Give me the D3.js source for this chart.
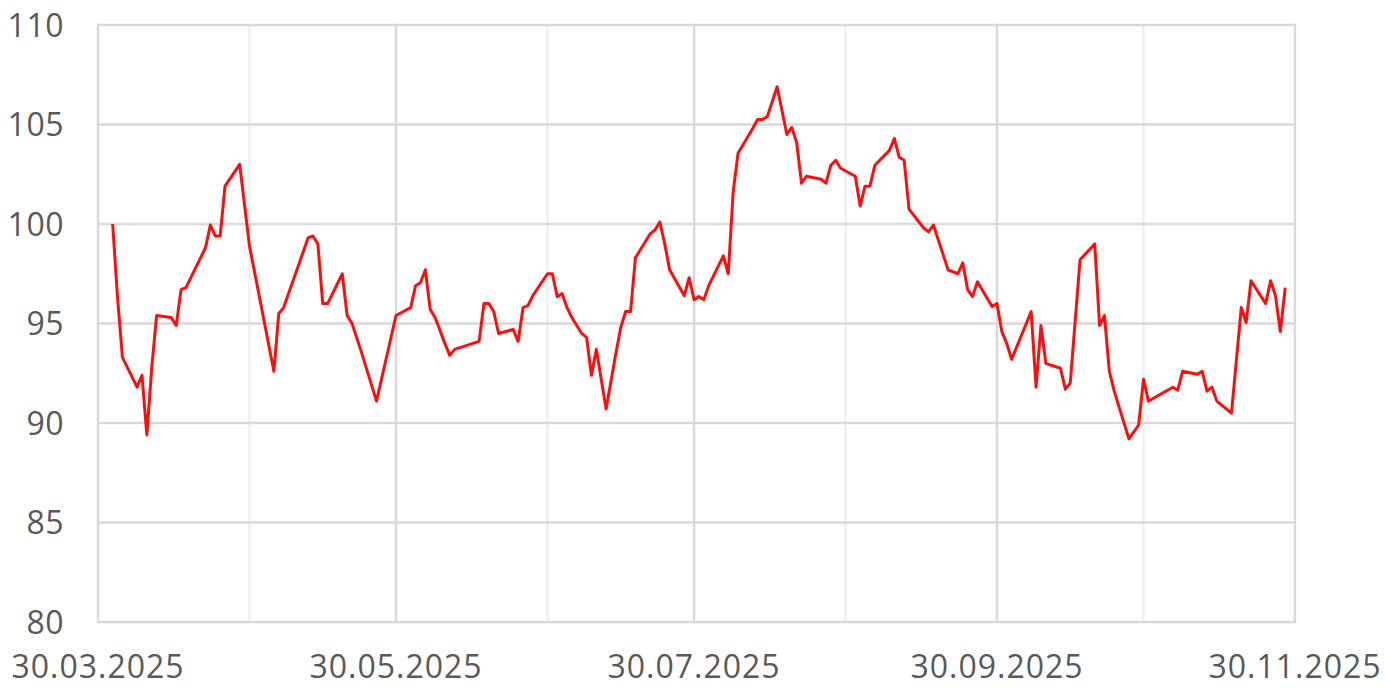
<!DOCTYPE html>
<html>
<head>
<meta charset="utf-8">
<script src="https://cdn.jsdelivr.net/npm/d3@7"></script>
<style>
  html, body { margin: 0; padding: 0; background: #fff; }
  svg text { font-family: "Open Sans", sans-serif; font-weight: 400; fill: #595959; }
</style>
</head>
<body>
<svg id="chart"></svg>
<script>
// dates of the series
var dates = [
  "2025-04-02","2025-04-03","2025-04-04","2025-04-07","2025-04-08","2025-04-09","2025-04-10","2025-04-11",
  "2025-04-14","2025-04-15","2025-04-16","2025-04-17","2025-04-21","2025-04-22","2025-04-23","2025-04-24",
  "2025-04-25","2025-04-28","2025-04-30","2025-05-05","2025-05-06","2025-05-07","2025-05-12","2025-05-13",
  "2025-05-14","2025-05-15","2025-05-16","2025-05-19","2025-05-20","2025-05-21","2025-05-23","2025-05-26",
  "2025-05-30","2025-06-02","2025-06-03","2025-06-04","2025-06-05","2025-06-06","2025-06-07","2025-06-09",
  "2025-06-10","2025-06-11","2025-06-16","2025-06-17","2025-06-18","2025-06-19","2025-06-20","2025-06-23",
  "2025-06-24","2025-06-25","2025-06-26","2025-06-27","2025-06-30","2025-07-01","2025-07-02","2025-07-03",
  "2025-07-04","2025-07-05","2025-07-07","2025-07-08","2025-07-09","2025-07-10","2025-07-12","2025-07-14",
  "2025-07-15","2025-07-16","2025-07-17","2025-07-18","2025-07-21","2025-07-22","2025-07-23","2025-07-24",
  "2025-07-25","2025-07-28","2025-07-29","2025-07-30","2025-07-31","2025-08-01","2025-08-02","2025-08-05",
  "2025-08-06","2025-08-07","2025-08-08","2025-08-11","2025-08-12","2025-08-13","2025-08-14","2025-08-16",
  "2025-08-18","2025-08-19","2025-08-20","2025-08-21","2025-08-22","2025-08-25","2025-08-26","2025-08-27",
  "2025-08-28","2025-08-29","2025-09-01","2025-09-02","2025-09-03","2025-09-04","2025-09-05","2025-09-08",
  "2025-09-09","2025-09-10","2025-09-11","2025-09-12","2025-09-15","2025-09-16","2025-09-17","2025-09-20",
  "2025-09-22","2025-09-23","2025-09-24","2025-09-25","2025-09-26","2025-09-29","2025-09-30","2025-10-01",
  "2025-10-02","2025-10-03","2025-10-07","2025-10-08","2025-10-09","2025-10-10","2025-10-13","2025-10-14",
  "2025-10-15","2025-10-17","2025-10-20","2025-10-21","2025-10-22","2025-10-23","2025-10-24","2025-10-27",
  "2025-10-29","2025-10-30","2025-10-31","2025-11-05","2025-11-06","2025-11-07","2025-11-10","2025-11-11",
  "2025-11-12","2025-11-13","2025-11-14","2025-11-17","2025-11-19","2025-11-20","2025-11-21","2025-11-24",
  "2025-11-25","2025-11-26","2025-11-27","2025-11-28"
];

var values = [
  100.0, 96.3, 93.3, 91.8, 92.4, 89.4, 92.8, 95.4,
  95.3, 94.9, 96.7, 96.8, 98.8, 99.95, 99.4, 99.4,
  101.9, 103.0, 98.9, 92.6, 95.5, 95.8, 99.3, 99.4,
  99.0, 96.0, 96.0, 97.5, 95.4, 95.0, 93.5, 91.1,
  95.4, 95.8, 96.9, 97.05, 97.7, 95.7, 95.3, 94.0,
  93.4, 93.7, 94.1, 96.0, 96.0, 95.6, 94.5, 94.7,
  94.1, 95.8, 95.9, 96.4, 97.5, 97.5, 96.35, 96.5,
  95.8, 95.3, 94.5, 94.3, 92.4, 93.7, 90.7, 93.5,
  94.8, 95.6, 95.6, 98.3, 99.5, 99.7, 100.1, 99.0,
  97.7, 96.4, 97.3, 96.2, 96.35, 96.2, 96.9, 98.4,
  97.5, 101.6, 103.55, 104.8, 105.25, 105.25, 105.4, 106.9,
  104.5, 104.85, 104.1, 102.05, 102.4, 102.25, 102.05, 102.95,
  103.2, 102.8, 102.4, 100.9, 101.9, 101.9, 102.95, 103.7,
  104.3, 103.35, 103.2, 100.75, 99.8, 99.6, 99.95, 97.7,
  97.5, 98.05, 96.7, 96.35, 97.1, 95.85, 96.0, 94.6,
  94.0, 93.2, 95.6, 91.8, 94.9, 93.0, 92.75, 91.7,
  92.0, 98.2, 99.0, 94.9, 95.4, 92.6, 91.6, 89.2,
  89.9, 92.2, 91.1, 91.8, 91.65, 92.6, 92.45, 92.6,
  91.6, 91.8, 91.1, 90.5, 95.8, 95.05, 97.15, 96.0,
  97.15, 96.4, 94.6, 96.8
];

// vertical grid: one line per month, labels every second month
var gridDates = ["2025-03-30","2025-04-30","2025-05-30","2025-06-30","2025-07-30",
                 "2025-08-30","2025-09-30","2025-10-30","2025-11-30"];
var labelDates = ["2025-03-30","2025-05-30","2025-07-30","2025-09-30","2025-11-30"];
var yTicks = [80, 85, 90, 95, 100, 105, 110];

var width = 1385, height = 689;
var margin = {top: 25, right: 90, bottom: 67, left: 98};

var parse = d3.utcParse("%Y-%m-%d");
var fmt = d3.utcFormat("%d.%m.%Y");

var data = dates.map(function(d, i) { return {date: parse(d), value: values[i]}; });

var x = d3.scaleUtc()
    .domain([parse(gridDates[0]), parse(gridDates[gridDates.length - 1])])
    .range([margin.left, width - margin.right]);

var y = d3.scaleLinear()
    .domain([80, 110])
    .range([height - margin.bottom, margin.top]);

var svg = d3.select("#chart")
    .attr("width", width)
    .attr("height", height);

var labelSet = new Set(labelDates);

// light monthly grid lines
svg.append("g")
  .selectAll("line")
  .data(gridDates.filter(function(d) { return !labelSet.has(d); }))
  .enter().append("line")
    .attr("x1", function(d) { return x(parse(d)); })
    .attr("x2", function(d) { return x(parse(d)); })
    .attr("y1", y(110))
    .attr("y2", y(80))
    .attr("stroke", "#f0f0f0")
    .attr("stroke-width", 2.5);

// horizontal grid lines
svg.append("g")
  .selectAll("line")
  .data(yTicks)
  .enter().append("line")
    .attr("x1", x.range()[0])
    .attr("x2", x.range()[1])
    .attr("y1", function(d) { return y(d); })
    .attr("y2", function(d) { return y(d); })
    .attr("stroke", "#d9d9d9")
    .attr("stroke-width", 2.5);

// darker grid lines at the labelled dates
svg.append("g")
  .selectAll("line")
  .data(labelDates)
  .enter().append("line")
    .attr("x1", function(d) { return x(parse(d)); })
    .attr("x2", function(d) { return x(parse(d)); })
    .attr("y1", y(110) - 1.25)
    .attr("y2", y(80) + 1.25)
    .attr("stroke", "#d9d9d9")
    .attr("stroke-width", 2.5);

// y labels
svg.append("g")
  .selectAll("text")
  .data(yTicks)
  .enter().append("text")
    .attr("x", margin.left - 34)
    .attr("y", function(d) { return y(d); })
    .attr("dy", "0.36em")
    .attr("text-anchor", "end")
    .style("font-size", "32px")
    .style("letter-spacing", "0.5px")
    .text(function(d) { return d; });

// x labels
svg.append("g")
  .selectAll("text")
  .data(labelDates)
  .enter().append("text")
    .attr("x", function(d) { return x(parse(d)); })
    .attr("y", y(80) + 56)
    .attr("text-anchor", "middle")
    .style("font-size", "32px")
    .style("letter-spacing", "1px")
    .text(function(d) { return fmt(parse(d)); });

// the series
var line = d3.line()
    .x(function(d) { return x(d.date); })
    .y(function(d) { return y(d.value); });

svg.append("path")
    .datum(data)
    .attr("d", line)
    .attr("fill", "none")
    .attr("stroke", "#ff0d0d")
    .attr("stroke-width", 3)
    .attr("stroke-linejoin", "round");
</script>
</body>
</html>
